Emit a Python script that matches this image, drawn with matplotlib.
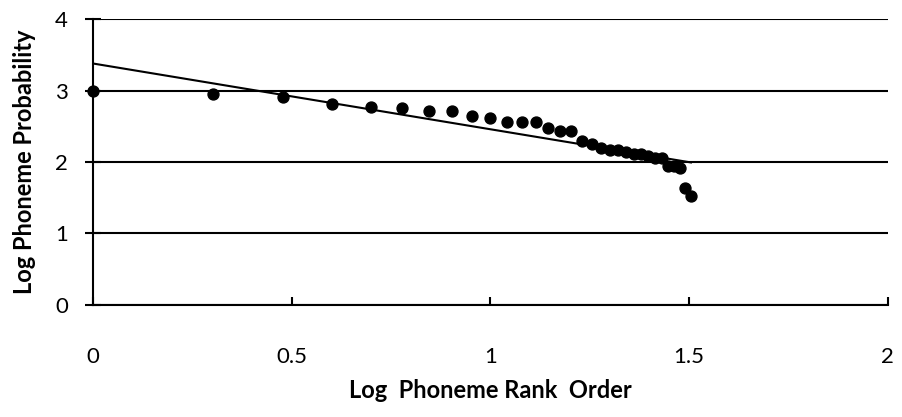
import matplotlib.pyplot as plt
import numpy as np

plt.rcParams["font.family"] = ["Lato", "DejaVu Sans"]

# log10 of phoneme rank and log phoneme probability
log_rank = [0.000, 0.301, 0.477, 0.602, 0.699, 0.778, 0.845, 0.903,
            0.954, 1.000, 1.041, 1.079, 1.114, 1.146, 1.176, 1.204,
            1.230, 1.255, 1.279, 1.301, 1.322, 1.342, 1.362, 1.380,
            1.398, 1.415, 1.431, 1.447, 1.462, 1.477, 1.491, 1.505]
log_prob = [3.00, 2.95, 2.91, 2.81, 2.77, 2.75, 2.72, 2.72,
            2.64, 2.61, 2.56, 2.56, 2.56, 2.47, 2.44, 2.44,
            2.30, 2.25, 2.19, 2.17, 2.17, 2.14, 2.11, 2.11,
            2.08, 2.06, 2.06, 1.94, 1.94, 1.92, 1.64, 1.53]

x_ticks = [0, 0.5, 1, 1.5, 2]
x_tick_labels = ["0", "0.5", "1", "1.5", "2"]
y_ticks = [0, 1, 2, 3, 4]

fig = plt.figure(figsize=(9.03, 4.17), dpi=100)
ax = fig.add_axes([0.103, 0.2686, 0.880, 0.6858])

# linear trend line over the data range
slope, intercept = np.polyfit(log_rank, log_prob, 1)
xs = np.array([log_rank[0], log_rank[-1]])
ax.plot(xs, intercept + slope * xs, color="black", linewidth=1.5, zorder=2)

ax.scatter(log_rank, log_prob, s=62, color="black", zorder=3, clip_on=False)

ax.set_xlim(0, 2)
ax.set_ylim(0, 4)
ax.set_xticks(x_ticks)
ax.set_xticklabels(x_tick_labels)
ax.set_yticks(y_ticks)

ax.grid(axis="y", color="black", linewidth=1.5)
ax.set_axisbelow(True)
for side in ["top", "right"]:
    ax.spines[side].set_visible(False)
for side in ["left", "bottom"]:
    ax.spines[side].set_linewidth(1.5)

ax.tick_params(axis="x", direction="in", length=6, width=1.5,
               labelsize=16, pad=30)
ax.tick_params(axis="y", direction="inout", length=12, width=1.5,
               labelsize=16, pad=12)

ax.set_xlabel("Log  Phoneme Rank  Order", fontsize=17, fontweight="bold",
              labelpad=9)
ax.set_ylabel("Log Phoneme Probability", fontsize=17, fontweight="bold",
              labelpad=14)

fig.savefig("out.png", dpi=100)
